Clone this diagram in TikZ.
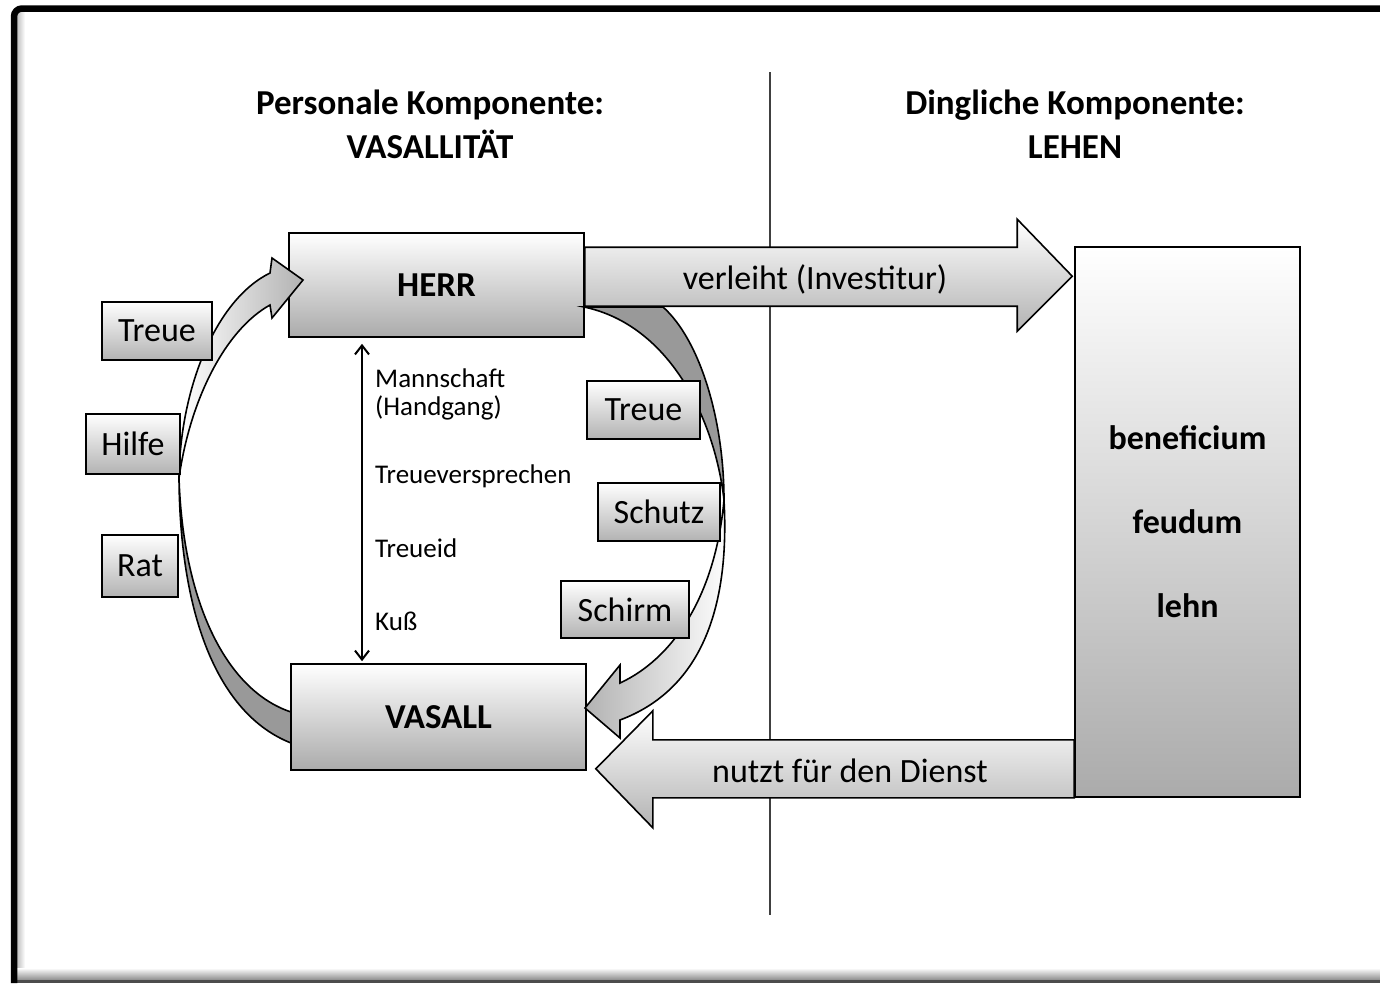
\documentclass[tikz,border=0pt]{standalone}
\usepackage{fontspec}
\setmainfont{Carlito}
\usetikzlibrary{arrows.meta,calc}

\begin{document}
\begin{tikzpicture}[
            x=1pt, y=-1pt,
            box/.style = {
                draw,
                line width=1.6pt,
                top color=white,
                bottom color=black!33,
                inner sep=0pt,
                font=\fontsize{35}{42}\selectfont\bfseries
            },
            tag/.style = {
                draw,
                line width=1.6pt,
                top color=white,
                bottom color=black!30,
                inner sep=0pt,
                font=\fontsize{34}{40}\selectfont
            },
            band/.style = {
                draw,
                line width=1.6pt,
                line join=miter,
                top color=white,
                bottom color=black!30
            },
            back/.style = {
                draw,
                line width=1.6pt,
                fill=black!40
            },
            heading/.style = {
                align=center,
                inner sep=0pt,
                font=\fontsize{35}{44}\selectfont\bfseries
            },
            step text/.style = {
                anchor=base west,
                inner sep=0pt,
                font=\fontsize{27}{30}\selectfont
            }
        ]
            \useasboundingbox (0,0) rectangle (1380,983);
            \fill[white] (0,0) rectangle (1380,983);
            \fill[left color=black!25, right color=white] (17,12) rectangle (25,970);
            \fill[top color=white, bottom color=black!45] (17,968) -- (1380,968) -- (1380,980) -- (17,980) -- cycle;
            \fill[black!70] (17,980) rectangle (1380,983);
            \draw[line width=6.5pt, rounded corners=8pt] (14,983) -- (14,8.5) -- (1380,8.5);

            \node[heading] (personal) at (430,124) {Personale Komponente:\\VASALLITÄT};
            \node[heading] (dinglich) at (1075,124) {Dingliche Komponente:\\LEHEN};
            \draw[line width=1.4pt, black!75] (770,72) -- (770,915);

            \node[box, minimum width=295pt, minimum height=104pt] (herr) at (436.5,285) {\raisebox{-3pt}{HERR}};
            \node[box, minimum width=295pt, minimum height=106pt] (vasall) at (438.5,717) {VASALL};
            \node[box, minimum width=225pt, minimum height=550pt, align=center,
                  font=\fontsize{34}{84}\selectfont\bfseries] (lehen) at (1187.5,522) {beneficium\\feudum\\lehn};

            \coordinate (axis) at (362,0);
            \draw[line width=2pt, {Straight Barb[length=9pt,width=14pt]}-{Straight Barb[length=9pt,width=14pt]},
                  shorten <=6pt, shorten >=2pt] (herr.south -| axis) -- (vasall.north -| axis);
            \node[step text] (mannschaft) at (375,387) {Mannschaft};
            \node[step text] (handgang) at (375,415) {(Handgang)};
            \node[step text] (versprechen) at (375,483) {Treueversprechen};
            \node[step text] (eid) at (375,557) {Treueid};
            \node[step text] (kuss) at (375,630) {Kuß};

            \draw[back] (291,743) .. controls (220,715) and (180,620) .. (179,478)
                .. controls (183,600) and (225,690) .. (291,712) -- cycle;
            \draw[band, left color=white, right color=black!30] (179,478) .. controls (180,390) and (215,300) .. (270,273)
                -- (272,258) -- (303,280) -- (272,318) -- (270,305)
                .. controls (225,330) and (190,400) .. (179,478) -- cycle;

            \draw[back] (584,307) -- (663,307) .. controls (700,340) and (724,420) .. (724,500)
                .. controls (715,420) and (670,325) .. (584,307) -- cycle;
            \draw[band, left color=black!30, right color=white] (724,500) .. controls (730,610) and (700,690) .. (620,720)
                -- (620,738) -- (585,708) -- (620,665) -- (620,683)
                .. controls (670,660) and (715,600) .. (724,500) -- cycle;

            \node[tag, minimum width=110pt, minimum height=58pt] (treue1) at (157,331) {Treue};
            \node[tag, minimum width=94pt, minimum height=60pt] (hilfe) at (133,444) {Hilfe};
            \node[tag, minimum width=76pt, minimum height=62pt] (rat) at (140,566) {Rat};
            \node[tag, minimum width=113pt, minimum height=58pt] (treue2) at (643.5,410) {Treue};
            \node[tag, minimum width=122pt, minimum height=58pt] (schutz) at (659,512) {Schutz};
            \node[tag, minimum width=128pt, minimum height=57pt] (schirm) at (625,609.5) {Schirm};

            \draw[band] ($(herr.north east)+(0,15)$) -| ($(lehen.north west)+(-57,-27)$)
                -- ($(lehen.north west)+(-2,30)$) -- ($(lehen.north west)+(-57,85)$)
                |- ($(herr.north east)+(0,74)$) -- cycle;
            \draw[band] (lehen.south west) -- ++(0,-58) -| ($(vasall.south east)+(66,-60)$)
                -- ($(vasall.south east)+(9,-2)$) -- ($(vasall.south east)+(66,57)$)
                |- (lehen.south west) -- cycle;
            \node[font=\fontsize{34}{40}\selectfont] (verleiht) at (815,279) {verleiht (Investitur)};
            \node[font=\fontsize{34}{40}\selectfont] (dienst) at (850,771) {nutzt für den Dienst};

        \end{tikzpicture}
\end{document}
